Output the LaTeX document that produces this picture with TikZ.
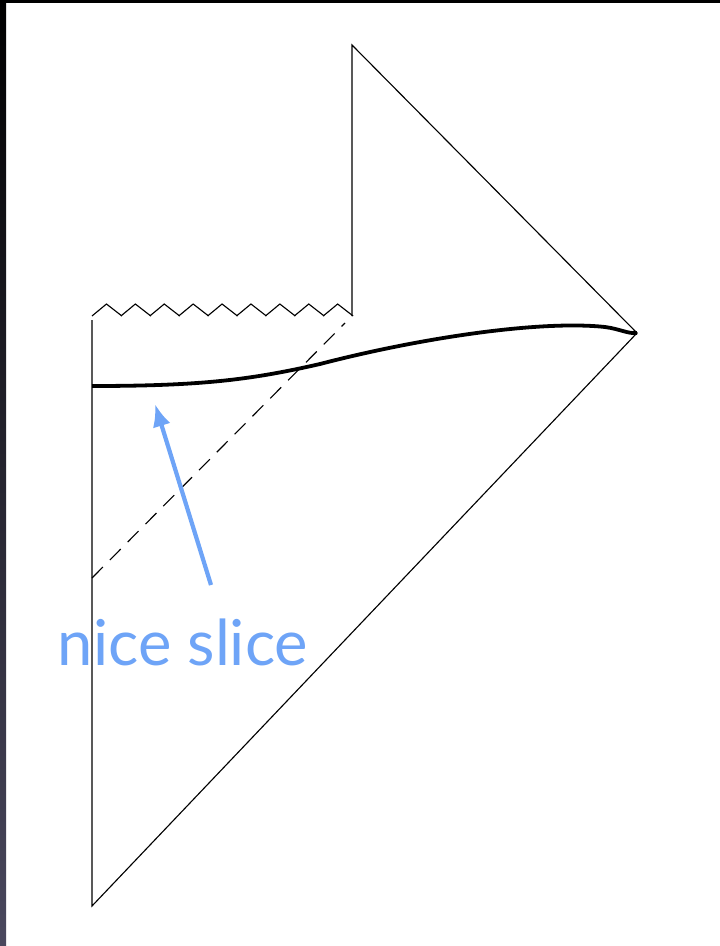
\documentclass[tikz,border=0pt]{standalone}
\usepackage{fontspec}
\usepackage{xcolor}
\usepackage{tikz}
\usetikzlibrary{calc, positioning, arrows.meta}
\newfontfamily\slicefont{Lato}
\definecolor{sliceblue}{RGB}{110,164,247}
\definecolor{bargrey}{RGB}{74,72,94}

\begin{document}
\begin{tikzpicture}[x=0.025cm, y=-0.025cm, line width=0.8pt]
            % 0. Khung
            \useasboundingbox (0,0) rectangle (720,946);
            \fill[white] (0,0) rectangle (720,946);
            \shade[top color=black, bottom color=bargrey] (0,0) rectangle (6,946);
            \fill[black] (0,0) rectangle (720,3);

            % 1. Các đỉnh
            \coordinate (botL) at (92,906);
            \coordinate (sing) at (92,320);
            \coordinate (tip) at (637,333);
            \coordinate (topR) at (352,45);
            \coordinate (wallR) at (352,316);
            \coordinate (dashA) at (92,578);
            \coordinate (dashB) at (345,323);

            % 2. Biên
            \draw (sing) -- (botL) -- (tip) -- (topR) -- (wallR);
            \foreach \i in {0,...,8} {
                \draw[line join=miter] ({92+28.9*\i},316) -- ({106.45+28.9*\i},304) -- ({121.9+28.9*\i},316);
            }
            \draw[dashed, dash pattern=on 11pt off 7pt] (dashA) -- (dashB);

            % 3. Lát cắt
            \draw[line width=2.7pt] (92,386) .. controls (200,386) and (250,380) .. (320,364)
                .. controls (420,338) and (540,320) .. (605,327)
                .. controls (620,329) and (628,334) .. (tip);

            % 4. Nhãn
            \node[sliceblue, font=\slicefont\fontsize{45}{54}\selectfont] (label) at (183,642) {nice slice};
            \coordinate (aim) at (155,404);
            \draw[sliceblue, line width=3pt, -{Latex[length=16pt, width=13pt]}] (211,585) -- (aim);
        \end{tikzpicture}
\end{document}
